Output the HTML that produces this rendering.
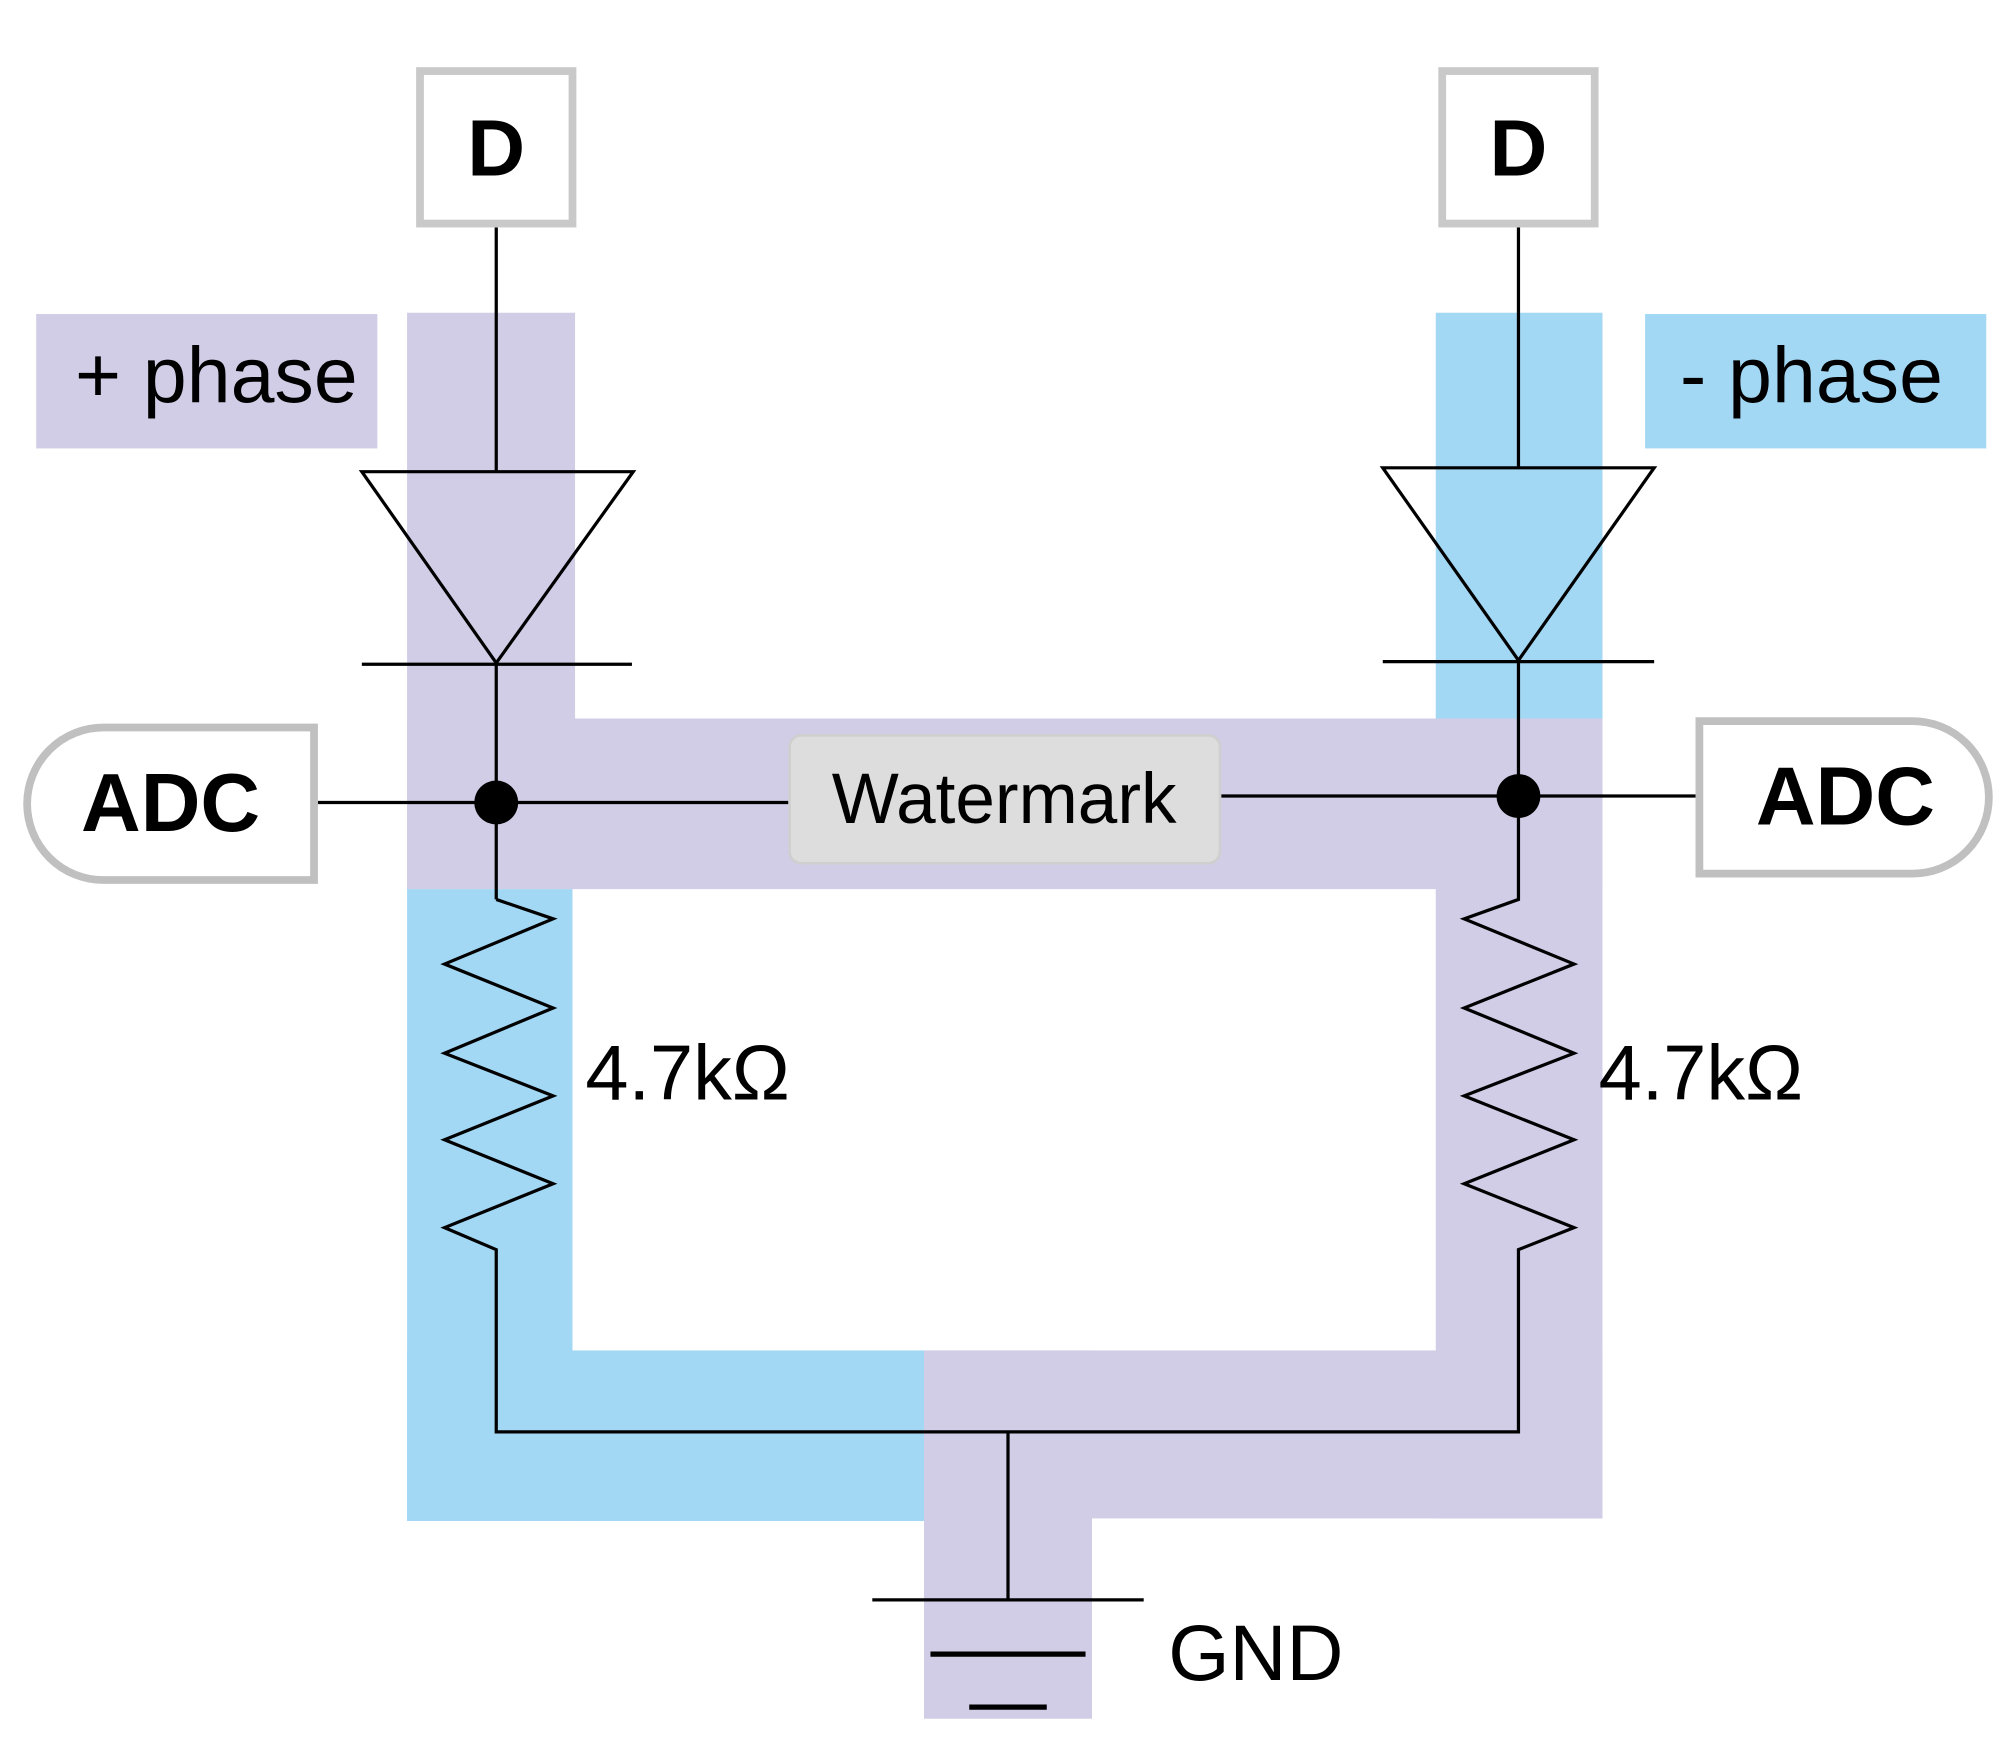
<!DOCTYPE html>
<html><head><meta charset="utf-8"><style>
html,body{margin:0;padding:0;background:#fff;}
svg{display:block;}
text{font-family:"Liberation Sans",Arial,sans-serif;}
</style></head><body>
<svg width="2016" height="1742" viewBox="0 0 1560 1348" preserveAspectRatio="none" xmlns="http://www.w3.org/2000/svg">
<rect width="1560" height="1348" fill="#fff"/>
<rect x="315" y="242" width="130" height="446" fill="#d1cde6"/>
<rect x="315" y="556" width="925" height="132" fill="#d1cde6"/>
<rect x="1111" y="242" width="129" height="314" fill="#a3d8f4"/>
<rect x="1111" y="556" width="129" height="619" fill="#d1cde6"/>
<rect x="315" y="688" width="128" height="489" fill="#a3d8f4"/>
<rect x="315" y="1045" width="400" height="132" fill="#a3d8f4"/>
<rect x="715" y="1045" width="525" height="130" fill="#d1cde6"/>
<rect x="715" y="1045" width="130" height="285" fill="#d1cde6"/>
<rect x="28" y="243" width="264" height="104" fill="#d1cde6"/>
<text x="58" y="311" font-size="61" fill="#000">+ phase</text>
<rect x="1273" y="243" width="264" height="104" fill="#a3d8f4"/>
<text x="1300" y="311" font-size="61" fill="#000">- phase</text>
<rect x="325" y="55" width="118" height="118" fill="#fff" stroke="#c8c9c8" stroke-width="6"/>
<text x="384" y="136" font-size="62" font-weight="bold" text-anchor="middle">D</text>
<rect x="1116" y="55" width="118" height="118" fill="#fff" stroke="#c8c9c8" stroke-width="6"/>
<text x="1175" y="136" font-size="62" font-weight="bold" text-anchor="middle">D</text>
<g stroke="#000" stroke-width="2.5" fill="none">
<line x1="384" y1="176" x2="384" y2="365"/>
<polygon points="280,365 490,365 384,513"/>
<line x1="280" y1="514" x2="489" y2="514"/>
<line x1="384" y1="513" x2="384" y2="696"/>
<polyline points="384,696 428,711 344,746 428,780 344,815 428,848 344,882 428,916 344,950 384,967 384,1108 1175,1108 1175,967 1218,950 1133,916 1218,882 1133,848 1218,815 1133,780 1218,746 1133,711 1175,696 1175,511"/>
<line x1="1175" y1="176" x2="1175" y2="362"/>
<polygon points="1070,362 1280,362 1175,511"/>
<line x1="1070" y1="512" x2="1280" y2="512"/>
<line x1="246" y1="621" x2="610" y2="621"/>
<line x1="945" y1="616" x2="1312" y2="616"/>
<line x1="780" y1="1108" x2="780" y2="1238"/>
<line x1="675" y1="1238" x2="885" y2="1238"/>
<line x1="720" y1="1280" x2="840" y2="1280" stroke-width="4"/>
<line x1="750" y1="1321" x2="810" y2="1321" stroke-width="4"/>
</g>
<circle cx="384" cy="621" r="17" fill="#000"/>
<circle cx="1175" cy="616" r="17" fill="#000"/>
<path d="M243,563 L80,563 A59,59 0 0 0 80,681 L243,681 Z" fill="#fff" stroke="#c0c0c0" stroke-width="6"/>
<text x="132" y="643" font-size="64" font-weight="bold" text-anchor="middle">ADC</text>
<path d="M1315,558 L1480,558 A59,59 0 0 1 1480,676 L1315,676 Z" fill="#fff" stroke="#c0c0c0" stroke-width="6"/>
<text x="1428" y="638" font-size="64" font-weight="bold" text-anchor="middle">ADC</text>
<rect x="611" y="569" width="333" height="99" rx="9" fill="#dcdddc" stroke="#cfcfcf" stroke-width="2"/>
<text x="777" y="637" font-size="55" text-anchor="middle">Watermark</text>
<text x="453" y="851" font-size="60">4.7kΩ</text>
<text x="1237" y="851" font-size="60">4.7kΩ</text>
<text x="904" y="1300" font-size="61">GND</text>
</svg>
</body></html>
